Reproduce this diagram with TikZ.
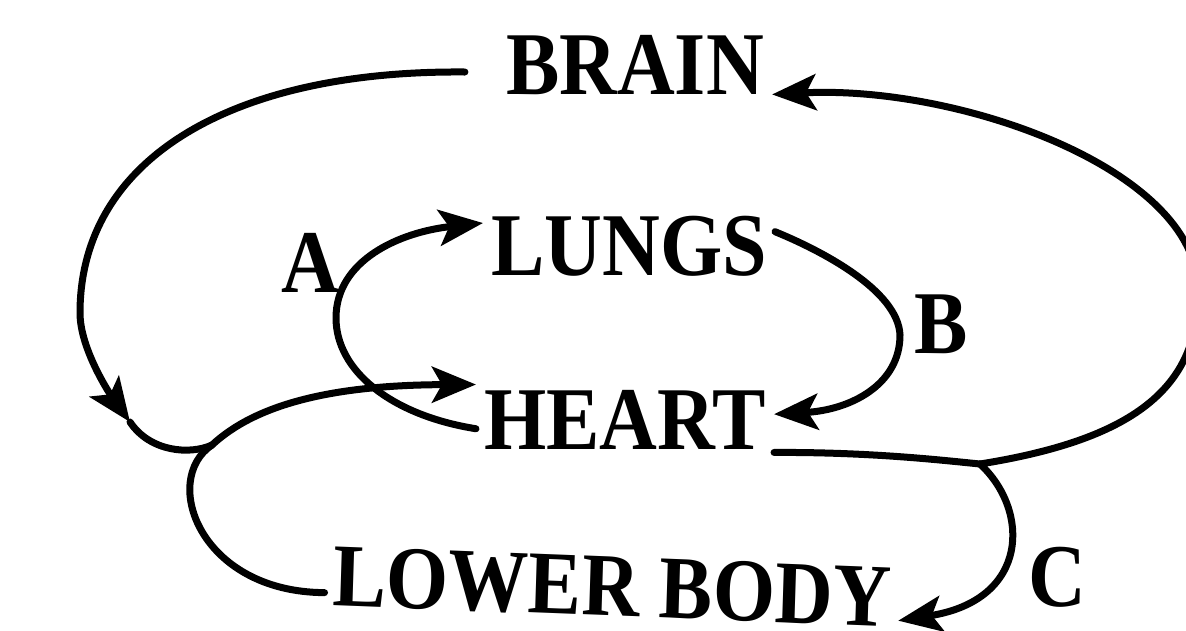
\documentclass[tikz,border=0pt]{standalone}
\usepackage{fontspec}
\setmainfont{Liberation Serif}
\usetikzlibrary{arrows.meta}

\begin{document}
\begin{tikzpicture}[x=1pt,y=-1pt,
  organ/.style={font=\bfseries\fontsize{80}{90}\selectfont,inner sep=8pt,yscale=1.12},
  vessel/.style={line width=7pt,line cap=round},
  flow/.style={vessel,-{Stealth[length=44pt,width=36pt,inset=10pt]}}]
\useasboundingbox (0,0) rectangle (1186,630);
\clip (0,0) rectangle (1186,630);
\node[organ] (brain) at (635,65) {BRAIN};
\node[organ] (lungs) at (629,246) {LUNGS};
\node[organ] (heart) at (625,420) {HEART};
\node[organ,rotate=-2] (lower) at (612,587) {LOWER BODY};
\node[organ] (a) at (310,263) {A};
\node[organ] (b) at (941,324) {B};
\node[organ] (c) at (1057,577) {C};
\coordinate (down) at (130,422);
\coordinate (merge) at (212,445);
\coordinate (split) at (980,464);
\coordinate (far) at (1198,290);
\draw[flow]([xshift=-33pt,yshift=-7pt]brain.west) .. controls (230,70) and (80,160) .. (80,313) .. controls (80,350) and (112,397) .. (down);
\draw[flow](down) .. controls (150,452) and (190,455) .. (merge) .. controls (255,405) and (330,385) .. (heart.168);
\draw[vessel](lower.183) .. controls (200,592) and (160,480) .. (merge);
\draw[flow](heart.183) .. controls (390,415) and (336,370) .. (336,318) .. controls (336,260) and (400,232) .. (lungs.172);
\draw[flow](lungs.5) .. controls (820,250) and (898,290) .. (900,335) .. controls (900,385) and (850,410) .. (heart.2);
\draw[vessel](heart.-11) .. controls (870,452) and (940,460) .. (split);
\draw[flow](split) .. controls (1130,440) and (1200,390) .. (far) .. controls (1198,170) and (960,85) .. (brain.base east);
\draw[flow](split) .. controls (1030,510) and (1030,600) .. (lower.-4);
\end{tikzpicture}
\end{document}
